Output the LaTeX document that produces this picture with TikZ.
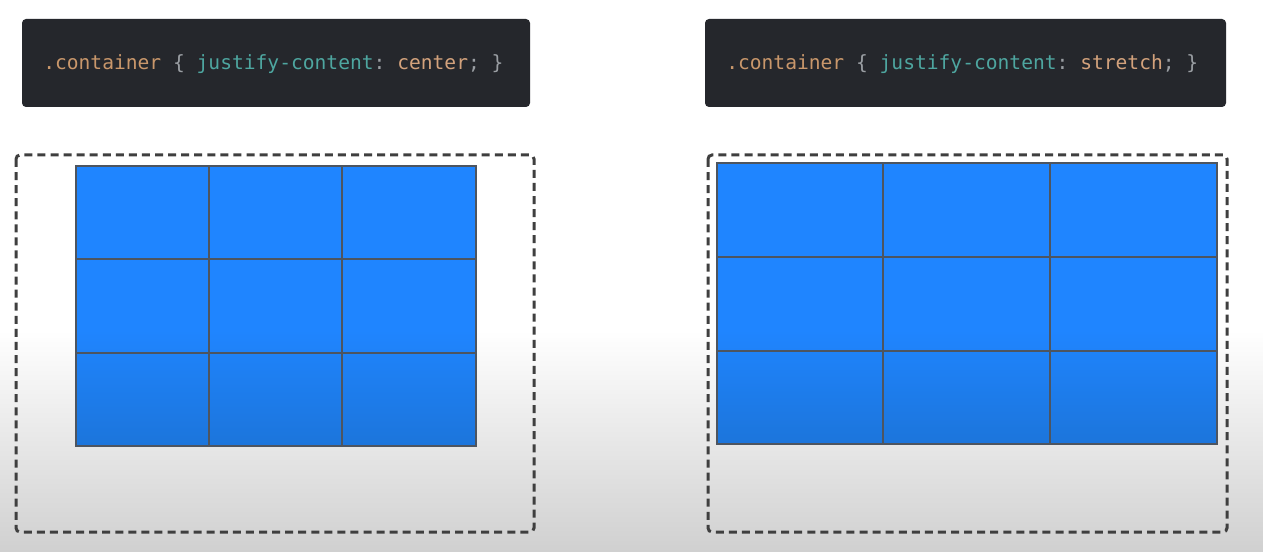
\documentclass[tikz,border=0pt]{standalone}
\usepackage{fontspec}
\setmonofont{DejaVu Sans Mono}
\definecolor{codebg}{HTML}{25272C}
\definecolor{selcol}{HTML}{C9976B}
\definecolor{punccol}{HTML}{9A9EA3}
\definecolor{propcol}{HTML}{4EA6A0}
\definecolor{valcol}{HTML}{D3A27C}
\definecolor{dashgrey}{HTML}{3F3F3F}
\definecolor{gridgrey}{HTML}{4D5560}
\definecolor{cellblue}{HTML}{1F85FF}
\definecolor{cellbluedark}{HTML}{1C75DB}
\definecolor{bggrey}{HTML}{D0D0D0}
\tikzset{
  codebox/.style={fill=codebg, rounded corners=3pt},
  codetext/.style={font=\ttfamily\fontsize{14.7}{16}\selectfont, anchor=base west, inner sep=0pt},
  container/.style={draw=dashgrey, line width=2.25pt, dash pattern=on 6pt off 3.8pt, rounded corners=3pt},
  cellline/.style={draw=gridgrey, line width=1.5pt},
}
\newcommand{\cssline}[1]{{\color{selcol}.container} {\color{punccol}\{} {\color{propcol}justify-content}{\color{punccol}:} {\color{valcol}#1}{\color{punccol};} {\color{punccol}\}}}
\begin{document}
\begin{tikzpicture}[x=0.75pt, y=-0.75pt]
\useasboundingbox (0,0) rectangle (1263,552);
% background
\fill[white] (0,0) rectangle (1263,330);
\shade[top color=white, bottom color=bggrey] (0,330) rectangle (1263,552);

% left: center
\fill[codebox] (22,19) rectangle (530,107);
\node[codetext] (cssCenter) at (43,70) {\cssline{center}};
\draw[container] (16,155) rectangle (534,532);
\fill[cellblue] (76,166) rectangle (476,330);
\shade[top color=cellblue, bottom color=cellbluedark] (76,330) rectangle (476,446);
\draw[cellline] (76,166) rectangle (476,446);
\draw[cellline] (209,166)--(209,446) (342,166)--(342,446)
  (76,259)--(476,259) (76,353)--(476,353);

% right: stretch
\fill[codebox] (705,19) rectangle (1226,107);
\node[codetext] (cssStretch) at (726,70) {\cssline{stretch}};
\draw[container] (708,155) rectangle (1227,532);
\fill[cellblue] (717,163) rectangle (1217,330);
\shade[top color=cellblue, bottom color=cellbluedark] (717,330) rectangle (1217,444);
\draw[cellline] (717,163) rectangle (1217,444);
\draw[cellline] (883,163)--(883,444) (1050,163)--(1050,444)
  (717,257)--(1217,257) (717,351)--(1217,351);
\end{tikzpicture}
\end{document}
